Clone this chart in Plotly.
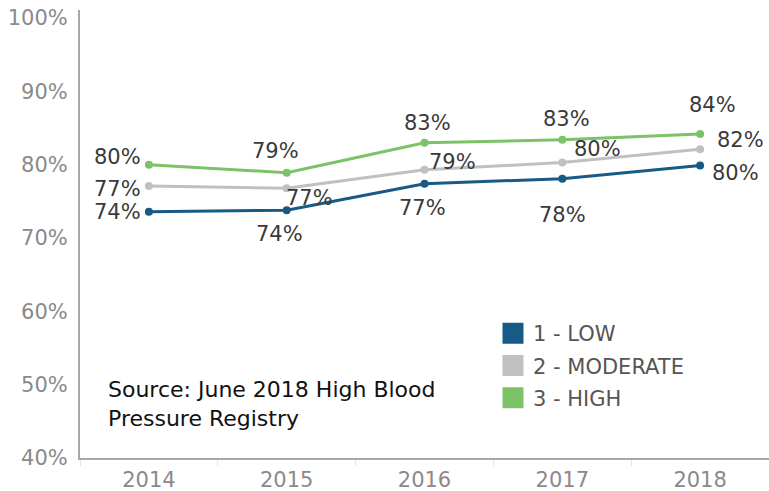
import plotly.graph_objects as go

years = ["2014", "2015", "2016", "2017", "2018"]
low = [73.6, 73.8, 77.4, 78.1, 79.9]
moderate = [77.1, 76.8, 79.3, 80.3, 82.1]
high = [80.0, 78.9, 83.0, 83.4, 84.2]
series_names = ["1 - LOW", "2 - MODERATE", "3 - HIGH"]
y_ticks = [40, 50, 60, 70, 80, 90, 100]
source_lines = ["Source: June 2018 High Blood", "Pressure Registry"]

colors = ["#185a86", "#c0c0c0", "#7cc368"]
# label offsets (pixels, dx right, dy down) per series per point
offsets = [
    [(-31, 0), (-7, 24), (-2, 24), (0, 36), (35, 8)],
    [(-31, 3), (23, 10), (28, -8), (35, -14), (40, -9)],
    [(-31, -8), (-11, -22), (3, -20), (4, -21), (12, -29)],
]

FONT = "DejaVu Sans"
fig = go.Figure()
all_series = [low, moderate, high]
for name, vals, col in zip(series_names, all_series, colors):
    fig.add_trace(go.Scatter(
        x=years, y=vals, mode="lines+markers", name=name,
        line=dict(color=col, width=3), marker=dict(color=col, size=8),
        showlegend=False, hoverinfo="skip"))

# legend entries with square swatches
for i, (name, col) in enumerate(zip(series_names, colors)):
    fig.add_trace(go.Scatter(
        x=[None], y=[None], mode="markers", name=name, legendgroup=f"g{i}",
        marker=dict(symbol="square", size=16, color=col,
                    line=dict(color=col, width=5))))

annotations = []
for vals, offs in zip(all_series, offsets):
    for idx, (yv, (dx, dy)) in enumerate(zip(vals, offs)):
        annotations.append(dict(
            x=idx, y=yv, xref="x", yref="y", text=f"{round(yv)}%",
            showarrow=False, xshift=dx, yshift=-dy,
            font=dict(family=FONT, size=21, color="#3a3a3a")))

src_y = [389, 418]
for line, py in zip(source_lines, src_y):
    annotations.append(dict(
        x=(106 - 80) / 689, y=(458 - py) / 448, xref="paper", yref="paper",
        xanchor="left", yanchor="middle", text=line, showarrow=False,
        font=dict(family=FONT, size=22, color="#111111")))

fig.update_layout(
    width=769, height=491,
    margin=dict(l=80, r=0, t=10, b=33),
    paper_bgcolor="white", plot_bgcolor="white",
    annotations=annotations,
    legend=dict(x=(493 - 80) / 689, xanchor="left", y=(458 - 313) / 448, yanchor="top",
                font=dict(family=FONT, size=21, color="#555555"),
                tracegroupgap=2, bgcolor="rgba(0,0,0,0)", itemclick=False),
    xaxis=dict(type="category", range=[-0.5, 4.5], showgrid=False,
               showline=True, linecolor="#a8a8a8", linewidth=2,
               ticks="outside", tickson="boundaries", ticklen=6, tickcolor="#e6e6e6",
               tickfont=dict(family=FONT, size=21, color="#8a8a8a"),
               ticklabelstandoff=2, zeroline=False),
    yaxis=dict(range=[40, 101.1], tickvals=y_ticks,
               ticktext=[f"{v}%" for v in y_ticks], showgrid=False, zeroline=False,
               showline=True, linecolor="#a8a8a8", linewidth=2,
               tickfont=dict(family=FONT, size=21, color="#8a8a8a"),
               ticklabelstandoff=6),
)

fig.write_html("out.html", config={"displayModeBar": False},
               post_script="document.body.style.margin='0';document.body.style.padding='0';")
